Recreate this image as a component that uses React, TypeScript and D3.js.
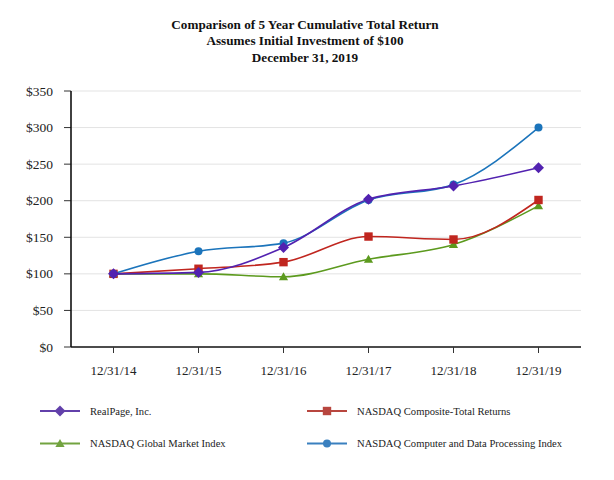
import React from "react";
import * as d3 from "d3";

const categories = ["12/31/14", "12/31/15", "12/31/16", "12/31/17", "12/31/18", "12/31/19"];
const realPage = [100, 102, 136, 202, 220, 245];
const nasdaqComposite = [100, 107, 116, 151, 147, 201];
const nasdaqGlobal = [100, 100, 96, 120, 140, 193];
const nasdaqComputer = [100, 131, 142, 201, 222, 300];
const yTicks = [0, 50, 100, 150, 200, 250, 300, 350];

const series = [
  { name: "NASDAQ Global Market Index", values: nasdaqGlobal, color: "#5c9a1e", legendColor: "#72a340", marker: "triangle" },
  { name: "NASDAQ Composite-Total Returns", values: nasdaqComposite, color: "#c0261f", legendColor: "#b8463f", marker: "square" },
  { name: "NASDAQ Computer and Data Processing Index", values: nasdaqComputer, color: "#1b74bb", legendColor: "#3a80bf", marker: "circle" },
  { name: "RealPage, Inc.", values: realPage, color: "#5222b0", legendColor: "#6240aa", marker: "diamond" },
];

const legendOrder = [
  { idx: 3, col: 0, row: 0 },
  { idx: 1, col: 1, row: 0 },
  { idx: 0, col: 0, row: 1 },
  { idx: 2, col: 1, row: 1 },
];

const W = 614, H = 480;
const left = 71, right = 581, top = 91, bottom = 347;

function Marker({ type, x, y, color }: { type: string; x: number; y: number; color: string }) {
  if (type === "circle") return <circle cx={x} cy={y} r={4} fill={color} />;
  if (type === "square") return <rect x={x - 4.2} y={y - 4.2} width={8.4} height={8.4} fill={color} />;
  if (type === "triangle") {
    const s = 4.6;
    return <path d={`M${x},${y - s} L${x + s},${y + s * 0.75} L${x - s},${y + s * 0.75}Z`} fill={color} />;
  }
  const s = 5.5;
  return <path d={`M${x},${y - s} L${x + s},${y} L${x},${y + s} L${x - s},${y}Z`} fill={color} />;
}

export default function App() {
  const x = d3.scaleBand<string>().domain(categories).range([left, right]);
  const y = d3.scaleLinear().domain([0, 350]).range([bottom, top]);
  const cx = (c: string) => (x(c) as number) + x.bandwidth() / 2;
  const line = d3
    .line<number>()
    .x((_, i) => cx(categories[i]))
    .y((v) => y(v))
    .curve(d3.curveMonotoneX);

  const font = '"Liberation Serif", "Times New Roman", Times, serif';

  return (
    <svg width={W} height={H} style={{ position: "absolute", left: 0, top: 0, background: "#fff", fontFamily: font }}>
      <g fontWeight="bold" fontSize={13.2} textAnchor="middle" fill="#111" style={{ fontFamily: font }}>
        <text x={305} y={28.5}>Comparison of 5 Year Cumulative Total Return</text>
        <text x={305} y={45}>Assumes Initial Investment of $100</text>
        <text x={305} y={61.5}>December 31, 2019</text>
      </g>
      {yTicks.map((t) => (
        <g key={t}>
          {t > 0 && <line x1={left} x2={right} y1={y(t)} y2={y(t)} stroke="#e3e3e3" strokeWidth={1} />}
          <line x1={left - 7} x2={left} y1={y(t)} y2={y(t)} stroke="#333" strokeWidth={1} />
          <text x={left - 18} y={y(t) + 4.5} textAnchor="end" fontSize={13.5} fill="#222" style={{ fontFamily: font }}>{`$${t}`}</text>
        </g>
      ))}
      <line x1={left} x2={left} y1={top} y2={bottom} stroke="#111" strokeWidth={1.6} />
      <line x1={left} x2={right} y1={bottom} y2={bottom} stroke="#111" strokeWidth={1.6} />
      {categories.map((c) => (
        <g key={c}>
          <line x1={cx(c)} x2={cx(c)} y1={bottom} y2={bottom + 6} stroke="#333" strokeWidth={1} />
          <text x={cx(c)} y={bottom + 28} textAnchor="middle" fontSize={13} fill="#222" style={{ fontFamily: font }}>{c}</text>
        </g>
      ))}
      {series.map((s) => (
        <path key={s.name} d={line(s.values) || ""} fill="none" stroke={s.color} strokeWidth={1.6} />
      ))}
      {series.map((s) =>
        s.values.map((v, i) => (
          <Marker key={s.name + i} type={s.marker} x={cx(categories[i])} y={y(v)} color={s.color} />
        ))
      )}
      {legendOrder.map(({ idx, col, row }) => {
        const s = series[idx];
        const lx = col === 0 ? 40 : 307;
        const ly = row === 0 ? 411 : 443.5;
        return (
          <g key={s.name}>
            <line x1={lx} x2={lx + 40} y1={ly} y2={ly} stroke={s.legendColor} strokeWidth={2} />
            <Marker type={s.marker} x={lx + 20} y={ly} color={s.legendColor} />
            <text x={lx + 50} y={ly + 3.8} fontSize={10.6} fill="#222" style={{ fontFamily: font }}>{s.name}</text>
          </g>
        );
      })}
    </svg>
  );
}
